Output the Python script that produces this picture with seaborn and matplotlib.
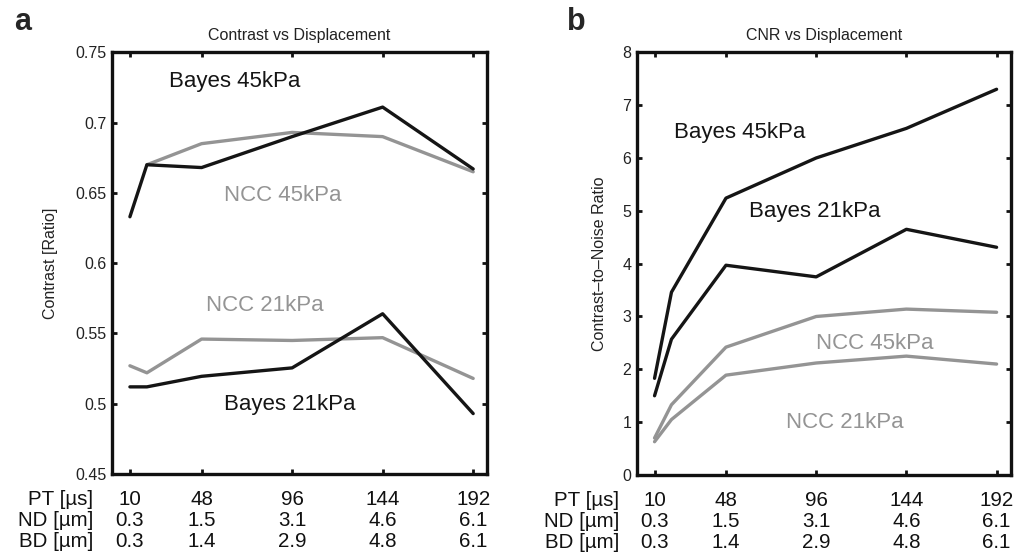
import numpy as np
import pandas as pd
import matplotlib
matplotlib.use("Agg")
import matplotlib.pyplot as plt
import seaborn as sns

# ---------------- data ----------------
pt_x = [10, 19, 48, 96, 144, 192]            # pulse time positions (µs)
tick_pt = [10, 48, 96, 144, 192]
tick_nd = ["0.3", "1.5", "3.1", "4.6", "6.1"]
tick_bd = ["0.3", "1.4", "2.9", "4.8", "6.1"]
row_headers = ["PT [µs]", "ND [µm]", "BD [µm]"]

# panel a: contrast
contrast_bayes45 = [0.633, 0.670, 0.668, 0.690, 0.711, 0.667]
contrast_ncc45 = [np.nan, 0.670, 0.685, 0.693, 0.690, 0.665]
contrast_ncc21 = [0.527, 0.522, 0.546, 0.545, 0.547, 0.518]
contrast_bayes21 = [0.512, 0.512, 0.5195, 0.5255, 0.564, 0.493]
contrast_yticks = [0.45, 0.5, 0.55, 0.6, 0.65, 0.7, 0.75]
contrast_yticklabels = ["0.45", "0.5", "0.55", "0.6", "0.65", "0.7", "0.75"]

# panel b: CNR
cnr_bayes45 = [1.83, 3.46, 5.24, 6.00, 6.56, 7.30]
cnr_bayes21 = [1.50, 2.57, 3.97, 3.75, 4.65, 4.31]
cnr_ncc45 = [0.70, 1.33, 2.42, 3.00, 3.14, 3.08]
cnr_ncc21 = [0.63, 1.05, 1.89, 2.12, 2.25, 2.10]
cnr_yticks = [0, 1, 2, 3, 4, 5, 6, 7, 8]
cnr_yticklabels = ["0", "1", "2", "3", "4", "5", "6", "7", "8"]

series_names = ["NCC 45kPa", "NCC 21kPa", "Bayes 45kPa", "Bayes 21kPa"]
BLACK = "#151515"
GRAY = "#949494"
palette = {"NCC 45kPa": GRAY, "NCC 21kPa": GRAY,
           "Bayes 45kPa": BLACK, "Bayes 21kPa": BLACK}


def long_df(values):
    rows = []
    for name, vals in zip(series_names, values):
        for x, v in zip(pt_x, vals):
            rows.append({"PT": x, "value": v, "series": name})
    return pd.DataFrame(rows).dropna()


df_a = long_df([contrast_ncc45, contrast_ncc21, contrast_bayes45, contrast_bayes21])
df_b = long_df([cnr_ncc45, cnr_ncc21, cnr_bayes45, cnr_bayes21])

# ---------------- style ----------------
sns.set_theme(style="white")
plt.rcParams["font.family"] = ["Liberation Sans", "DejaVu Sans"]

fig = plt.figure(figsize=(10.21, 5.55), dpi=100)
ax_a = fig.add_axes([0.1097, 0.1459, 0.3676, 0.7599])
ax_b = fig.add_axes([0.6236, 0.1441, 0.3663, 0.7617])

LW = 2.4


def setup(ax, df, ylim, yticks, yticklabels, title, ylabel, ylabel_x, hdr_x):
    sns.lineplot(data=df, x="PT", y="value", hue="series", hue_order=series_names,
                 palette=palette, estimator=None, sort=False, legend=False,
                 linewidth=LW, ax=ax)
    ax.set_xlim(0.5, 199.5)
    ax.set_ylim(*ylim)
    ax.set_yticks(yticks)
    ax.set_yticklabels(yticklabels, fontsize=11.5, color="#222222")
    ax.set_xticks(tick_pt)
    ax.set_xticklabels([])
    ax.tick_params(axis="both", direction="in", length=3.5, width=2.0,
                   color="#111111", top=True, right=True, bottom=True, left=True,
                   pad=4)
    for s in ax.spines.values():
        s.set_visible(True)
        s.set_linewidth(2.4)
        s.set_color("#111111")
    ax.set_title(title, fontsize=11.5, pad=8.5, color="#222222")
    ax.set_xlabel("")
    ax.set_ylabel(ylabel, fontsize=11.5, color="#222222")
    ax.yaxis.set_label_coords(ylabel_x, 0.5)
    # bottom rows of labels
    xt = ax.get_xaxis_transform()
    row_y = [-0.0735, -0.1224, -0.1722]
    rows = [[str(v) for v in tick_pt], tick_nd, tick_bd]
    for ry, labels in zip(row_y, rows):
        for xv, lab in zip(tick_pt, labels):
            ax.text(xv, ry, lab, transform=xt, ha="center", va="baseline",
                    fontsize=14.8, color="#111111", clip_on=False)
    for ry, hdr in zip(row_y, row_headers):
        ax.text(hdr_x, ry, hdr, transform=ax.transAxes, ha="right", va="baseline",
                fontsize=14.8, color="#111111", clip_on=False)


setup(ax_a, df_a, (0.45, 0.75), contrast_yticks, contrast_yticklabels,
      "Contrast vs Displacement", "Contrast [Ratio]", -0.144, -0.05)
setup(ax_b, df_b, (0, 8), cnr_yticks, cnr_yticklabels,
      "CNR vs Displacement", "Contrast–to–Noise Ratio", -0.080, -0.047)

# in-plot series labels
lab_kw = dict(fontsize=16, ha="left", va="center")
ax_a.text(30.5, 0.729, "Bayes 45kPa", color=BLACK, **lab_kw)
ax_a.text(60, 0.6484, "NCC 45kPa", color=GRAY, **lab_kw)
ax_a.text(50.6, 0.5702, "NCC 21kPa", color=GRAY, **lab_kw)
ax_a.text(60, 0.4993, "Bayes 21kPa", color=BLACK, **lab_kw)

ax_b.text(20.1, 6.48, "Bayes 45kPa", color=BLACK, **lab_kw)
ax_b.text(60, 4.99, "Bayes 21kPa", color=BLACK, **lab_kw)
ax_b.text(96.1, 2.49, "NCC 45kPa", color=GRAY, **lab_kw)
ax_b.text(80.2, 0.99, "NCC 21kPa", color=GRAY, **lab_kw)

# panel letters
fig.text(0.0137, 0.946, "a", fontsize=22, fontweight="bold", ha="left", va="baseline")
fig.text(0.5553, 0.946, "b", fontsize=22, fontweight="bold", ha="left", va="baseline")

fig.savefig("out.png", dpi=100)
